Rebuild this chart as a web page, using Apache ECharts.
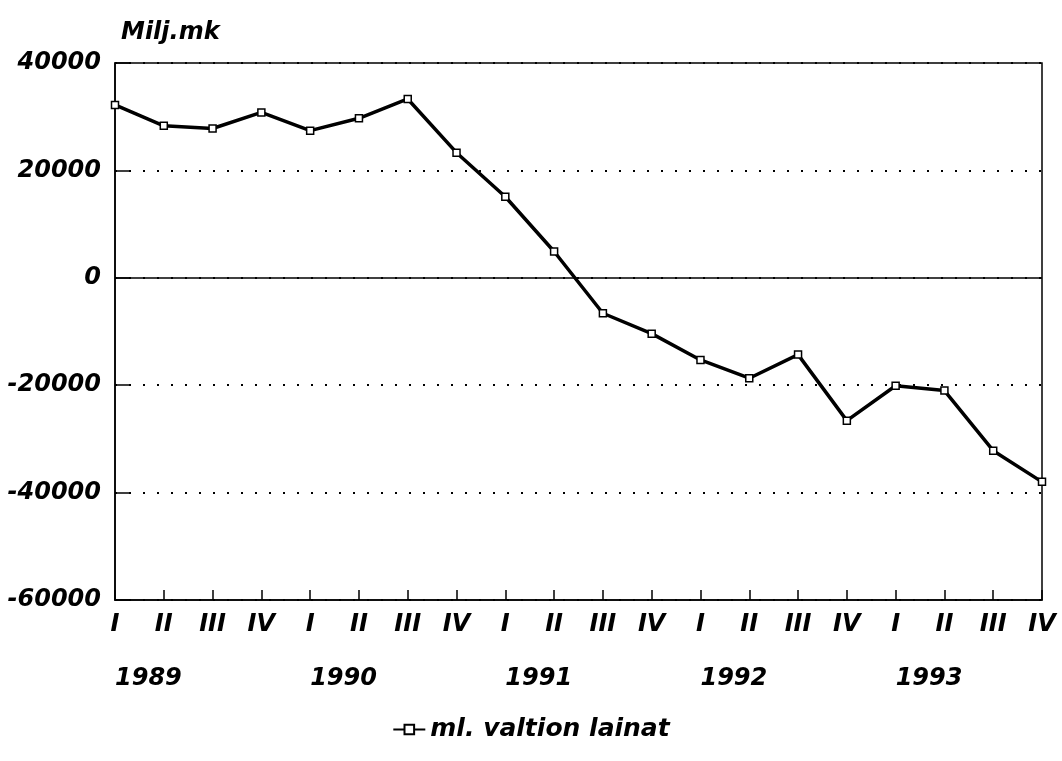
<!DOCTYPE html>
<html style="height: 100%">
<head>
<meta charset="UTF-8">
<title>ml. valtion lainat</title>
<script src="https://cdn.jsdelivr.net/npm/echarts@6/dist/echarts.min.js"></script>
</head>
<body style="height: 100%; margin: 0; background: #fff">
<div id="container" style="width: 1062px; height: 761px"></div>
<script type="text/javascript">
// quarters 1989 I .. 1993 IV
var quarters = ['I', 'II', 'III', 'IV', 'I', 'II', 'III', 'IV', 'I', 'II',
                'III', 'IV', 'I', 'II', 'III', 'IV', 'I', 'II', 'III', 'IV'];
var years = ['1989', '1990', '1991', '1992', '1993'];
// Milj.mk
var lainat = [32200, 28300, 27800, 30800, 27400, 29700, 33300, 23300, 15100, 4900,
              -6600, -10400, -15300, -18700, -14300, -26600, -20100, -21000, -32200, -38000];

var font = 'DejaVu Sans';
var labelStyle = {
    color: '#000',
    fontFamily: font,
    fontWeight: 'bold',
    fontStyle: 'italic',
    fontSize: 24
};

var dom = document.getElementById('container');
var myChart = echarts.init(dom);

var option = {
    animation: false,
    backgroundColor: '#fff',
    title: {
        text: 'Milj.mk',
        left: 116,
        top: 16,
        textStyle: labelStyle
    },
    grid: {
        left: 115,
        right: 20,
        top: 63,
        bottom: 161,
        show: true,
        borderColor: '#000',
        borderWidth: 1.5
    },
    legend: {
        bottom: 14,
        left: 'center',
        itemWidth: 32,
        itemHeight: 12,
        textStyle: Object.assign({}, labelStyle, { fontSize: 25 }),
        data: ['ml. valtion lainat']
    },
    xAxis: [{
        type: 'category',
        data: quarters,
        boundaryGap: false,
        axisLine: { onZero: false, lineStyle: { color: '#000', width: 1.5 } },
        axisTick: { inside: true, length: 10, lineStyle: { color: '#000', width: 1.5 } },
        axisLabel: Object.assign({ interval: 0, margin: 13 }, labelStyle),
        splitLine: { show: false }
    }, {
        type: 'category',
        data: quarters,
        boundaryGap: false,
        position: 'bottom',
        axisLine: { show: false, onZero: false },
        axisTick: { show: false },
        splitLine: { show: false },
        axisLabel: Object.assign({
            interval: 0,
            margin: 67,
            align: 'left',
            formatter: function (v, i) {
                return i % 4 === 0 ? years[i / 4] : '';
            }
        }, labelStyle)
    }],
    yAxis: {
        type: 'value',
        min: -60000,
        max: 40000,
        interval: 20000,
        axisLine: { show: true, lineStyle: { color: '#000', width: 1.5 } },
        axisTick: { show: true, inside: true, length: 16, lineStyle: { color: '#000', width: 1.5 } },
        axisLabel: Object.assign({
            margin: 14,
            formatter: function (v) { return String(v); }
        }, labelStyle),
        splitLine: { show: true, lineStyle: { color: '#000', width: 2, type: [2, 12] } }
    },
    series: [{
        name: 'ml. valtion lainat',
        type: 'line',
        data: lainat,
        symbol: 'rect',
        symbolSize: 7,
        showAllSymbol: true,
        lineStyle: { color: '#000', width: 3.5 },
        itemStyle: { color: '#fff', borderColor: '#000', borderWidth: 1.5 },
        markLine: {
            silent: true,
            symbol: 'none',
            label: { show: false },
            lineStyle: { color: '#000', width: 1.5, type: 'solid' },
            data: [{ yAxis: 0 }]
        }
    }]
};

myChart.setOption(option);
</script>
</body>
</html>
